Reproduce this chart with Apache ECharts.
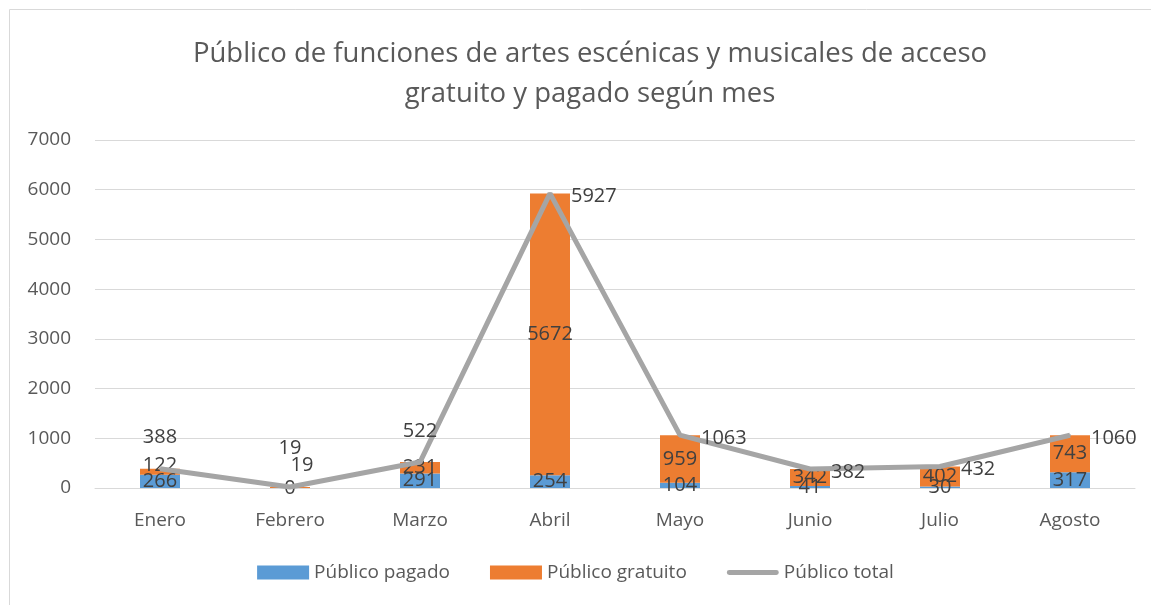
<!DOCTYPE html>
<html>
<head>
    <meta charset="utf-8"/>
    <title>ECharts</title>
    <script src="https://cdn.jsdelivr.net/npm/echarts@6.0.0/dist/echarts.min.js"></script>
    <style>body{margin:0;background:#fff}</style>
</head>
<body>
<div id="chart" style="width: 1151px;height:605px;"></div>
<script type="text/javascript">
    var meses = ['Enero', 'Febrero', 'Marzo', 'Abril', 'Mayo', 'Junio', 'Julio', 'Agosto'];
    var pagado = [266, 0, 291, 254, 104, 41, 30, 317];
    var gratuito = [122, 19, 231, 5672, 959, 342, 402, 743];
    var total = [388, 19, 522, 5927, 1063, 382, 432, 1060];

    var font = 'Open Sans';
    var lblStyle = { fontSize: 20, color: '#404040', fontFamily: font };

    // etiquetas del total: arriba en los tres primeros meses, a la derecha en el resto
    var totalData = total.map(function (v, i) {
        var arriba = i < 3;
        return {
            value: v,
            label: arriba ? { position: 'top', distance: i == 1 ? 28 : 20 } : { position: 'right', distance: 20, offset: [0, 3] }
        };
    });
    // Febrero: la etiqueta del gratuito va desplazada (como en Excel)
    var gratuitoData = gratuito.map(function (v, i) {
        if (i == 1) return { value: v, label: { offset: [12, -22] } };
        if (i == 0) return { value: v, label: { offset: [0, -6] } };
        return v;
    });

    var option = {
        graphic: [{
            type: 'rect',
            shape: { x: 9.5, y: 9.5, width: 1200, height: 700 },
            style: { fill: 'none', stroke: '#d9d9d9', lineWidth: 1 }
        }],
        title: {
            text: 'Público de funciones de artes escénicas y musicales de acceso\ngratuito y pagado según mes',
            left: 585,
            top: 29,
            textAlign: 'center',
            textStyle: { fontSize: 27.5, fontWeight: 'normal', color: '#595959', fontFamily: font, lineHeight: 40 }
        },
        legend: {
            bottom: 18,
            left: 'center',
            itemGap: 40,
            itemWidth: 52,
            itemHeight: 14,
            textStyle: { fontSize: 19, color: '#595959', fontFamily: font },
            data: [
                { name: 'Público pagado', icon: 'rect' },
                { name: 'Público gratuito', icon: 'rect' },
                { name: 'Público total', icon: 'path://M2,0 h48 a2.5,2.5 0 0 1 0,5 h-48 a2.5,2.5 0 0 1 0,-5 z' }
            ]
        },
        grid: { left: 95, right: 16, top: 140, bottom: 117 },
        xAxis: {
            type: 'category',
            data: meses,
            axisTick: { show: false },
            axisLine: { lineStyle: { color: '#d9d9d9', width: 1 } },
            axisLabel: { fontSize: 19, color: '#595959', fontFamily: font, margin: 23 }
        },
        yAxis: {
            type: 'value',
            min: 0,
            max: 7000,
            interval: 1000,
            axisLabel: {
                fontSize: 19, color: '#595959', fontFamily: font, margin: 24,
                formatter: function (v) { return String(v); }
            },
            splitLine: { lineStyle: { color: '#d9d9d9' } }
        },
        series: [
            {
                name: 'Público pagado',
                type: 'bar',
                stack: 'p',
                barWidth: 40,
                data: pagado,
                itemStyle: { color: '#5b9bd5' },
                label: Object.assign({ show: true, position: 'inside' }, lblStyle)
            },
            {
                name: 'Público gratuito',
                type: 'bar',
                stack: 'p',
                barWidth: 40,
                data: gratuitoData,
                itemStyle: { color: '#ed7d31' },
                label: Object.assign({ show: true, position: 'inside' }, lblStyle)
            },
            {
                name: 'Público total',
                type: 'line',
                data: totalData,
                symbol: 'circle',
                symbolSize: 2,
                showSymbol: true,
                lineStyle: { color: '#a5a5a5', width: 5 },
                itemStyle: { color: '#a5a5a5' },
                label: Object.assign({ show: true }, lblStyle),
                z: 5
            }
        ]
    };
    var chart = echarts.init(document.getElementById('chart'));
    chart.setOption(option);
</script>
</body>
</html>
